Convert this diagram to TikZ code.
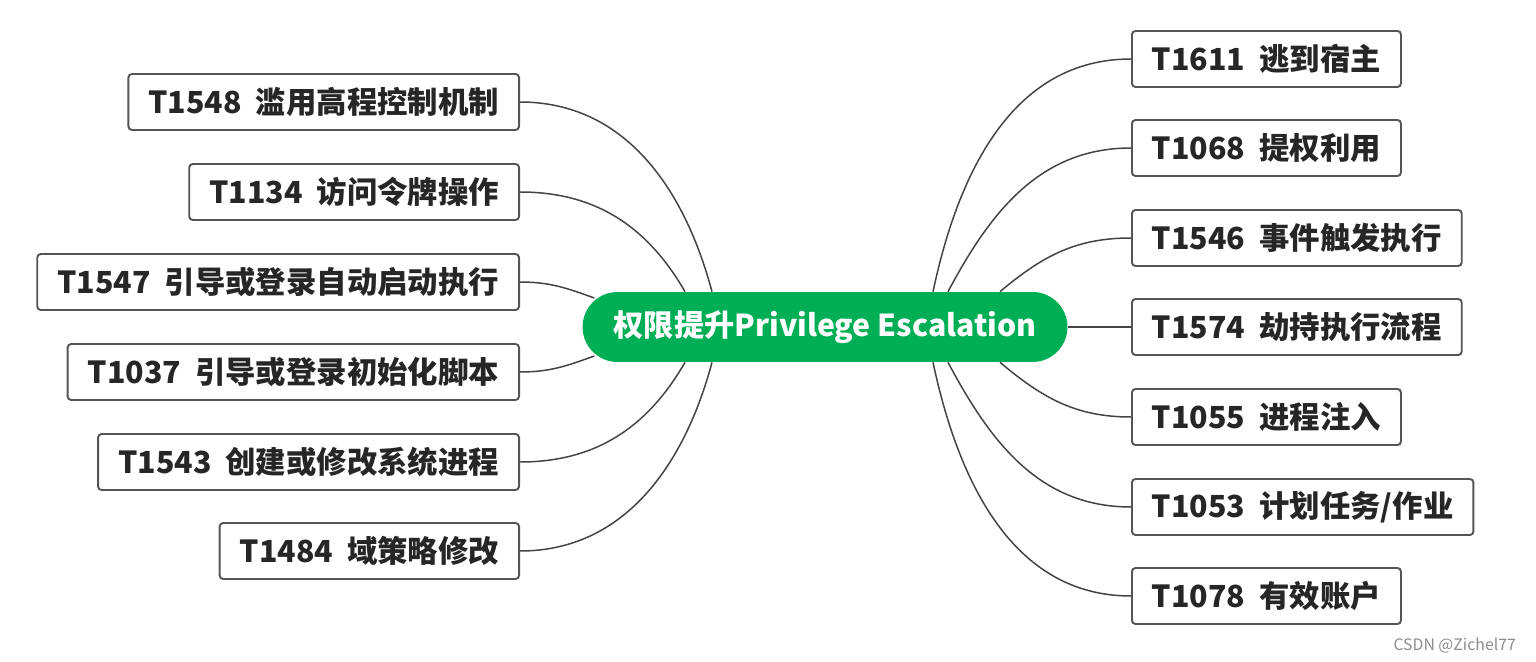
\documentclass[tikz,border=0pt]{standalone}
\usepackage{fontspec}
\setmainfont{Noto Sans CJK SC}
\definecolor{mmgreen}{RGB}{0,174,85}
\definecolor{mmline}{RGB}{68,68,68}
\definecolor{mmframe}{RGB}{85,85,85}
\usetikzlibrary{calc}

\begin{document}
\begin{tikzpicture}[x=0.02cm, y=-0.02cm,
  leafbox/.style={draw=mmframe, line width=1.1pt, fill=white, rounded corners=2pt,
    minimum height=1.12cm, inner xsep=0.4cm, font=\fontsize{17.3}{20}\selectfont\bfseries,
    text=black!85},
  rootbox/.style={fill=mmgreen, rounded corners=0.7cm, minimum width=9.7cm,
    minimum height=1.4cm, font=\fontsize{17.2}{21}\selectfont\bfseries, text=white},
  link/.style={draw=mmline, line width=0.85pt}]

\useasboundingbox (0,0) rectangle (1536,662);

\node[rootbox] (root) at (825,327) {权限提升Privilege Escalation};

% left side
\node[leafbox, anchor=east] (l1) at (520,102) {T1548\ \ 滥用高程控制机制};
\node[leafbox, anchor=east] (l2) at (520,192) {T1134\ \ 访问令牌操作};
\node[leafbox, anchor=east] (l3) at (520,282) {T1547\ \ 引导或登录自动启动执行};
\node[leafbox, anchor=east] (l4) at (520,372) {T1037\ \ 引导或登录初始化脚本};
\node[leafbox, anchor=east] (l5) at (520,462) {T1543\ \ 创建或修改系统进程};
\node[leafbox, anchor=east] (l6) at (520,551) {T1484\ \ 域策略修改};

% right side
\node[leafbox, anchor=west] (r1) at (1131,59) {T1611\ \ 逃到宿主};
\node[leafbox, anchor=west] (r2) at (1131,148) {T1068\ \ 提权利用};
\node[leafbox, anchor=west] (r3) at (1131,238) {T1546\ \ 事件触发执行};
\node[leafbox, anchor=west] (r4) at (1131,327) {T1574\ \ 劫持执行流程};
\node[leafbox, anchor=west] (r5) at (1131,417) {T1055\ \ 进程注入};
\node[leafbox, anchor=west] (r6) at (1131,507) {T1053\ \ 计划任务/作业};
\node[leafbox, anchor=west] (r7) at (1131,596) {T1078\ \ 有效账户};

% connectors
\draw[link] (l1.east) to[out=0, in=105] ($(root.north)+(-113,0)$);
\draw[link] (l2.east) to[out=0, in=120] ($(root.north)+(-140,0)$);
\draw[link] (l3.east) to[out=0, in=160] ($(root.west)+(12,-29)$);
\draw[link] (l4.east) to[out=0, in=200] ($(root.west)+(12,29)$);
\draw[link] (l5.east) to[out=0, in=240] ($(root.south)+(-140,0)$);
\draw[link] (l6.east) to[out=0, in=255] ($(root.south)+(-113,0)$);

\draw[link] ($(root.north)+(108,0)$) to[out=78, in=180] (r1.west);
\draw[link] ($(root.north)+(123,0)$) to[out=62, in=180] (r2.west);
\draw[link] ($(root.north)+(175,0)$) to[out=40, in=180] (r3.west);
\draw[link] (root.east) -- (r4.west);
\draw[link] ($(root.south)+(175,0)$) to[out=-40, in=180] (r5.west);
\draw[link] ($(root.south)+(123,0)$) to[out=-62, in=180] (r6.west);
\draw[link] ($(root.south)+(108,0)$) to[out=-78, in=180] (r7.west);

\node[text=black!45, font=\fontsize{9}{11}\selectfont, anchor=east] (mark) at (1522,646) {CSDN @Zichel77};

\end{tikzpicture}
\end{document}
